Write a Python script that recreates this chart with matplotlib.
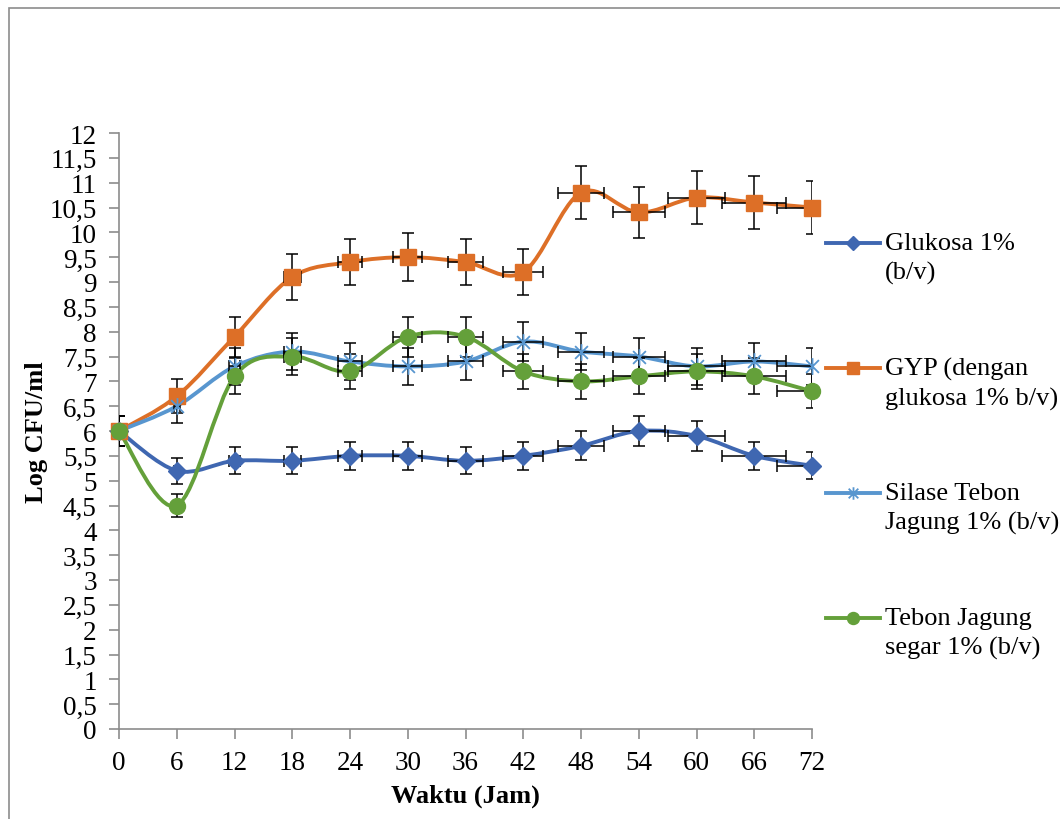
import numpy as np
import matplotlib.pyplot as plt
from matplotlib.path import Path
from matplotlib.patches import PathPatch, Rectangle
from matplotlib.lines import Line2D
from matplotlib.ticker import MultipleLocator, FuncFormatter

plt.rcParams['font.family'] = ['Liberation Serif', 'DejaVu Serif']

hours = [0, 6, 12, 18, 24, 30, 36, 42, 48, 54, 60, 66, 72]
hour_err = [0, 0.3, 0.6, 0.9, 1.2, 1.5, 1.8, 2.1, 2.4, 2.7, 3.0, 3.3, 3.6]

glukosa = [6.0, 5.2, 5.4, 5.4, 5.5, 5.5, 5.4, 5.5, 5.7, 6.0, 5.9, 5.5, 5.3]
glukosa_err = [0.30, 0.26, 0.27, 0.27, 0.28, 0.28, 0.27, 0.28, 0.29, 0.30, 0.30, 0.28, 0.27]

gyp = [6.0, 6.7, 7.9, 9.1, 9.4, 9.5, 9.4, 9.2, 10.8, 10.4, 10.7, 10.6, 10.5]
gyp_err = [0.30, 0.34, 0.40, 0.46, 0.47, 0.48, 0.47, 0.46, 0.54, 0.52, 0.54, 0.53, 0.53]

silase = [6.0, 6.5, 7.3, 7.6, 7.4, 7.3, 7.4, 7.8, 7.6, 7.5, 7.3, 7.4, 7.3]
silase_err = [0.30, 0.33, 0.37, 0.38, 0.37, 0.37, 0.37, 0.39, 0.38, 0.38, 0.37, 0.37, 0.37]

tebon = [6.0, 4.5, 7.1, 7.5, 7.2, 7.9, 7.9, 7.2, 7.0, 7.1, 7.2, 7.1, 6.8]
tebon_err = [0.30, 0.23, 0.36, 0.38, 0.36, 0.40, 0.40, 0.36, 0.35, 0.36, 0.36, 0.36, 0.34]

labels = ["Glukosa 1%\n(b/v)", "GYP (dengan\nglukosa 1% b/v)",
          "Silase Tebon\nJagung 1% (b/v)", "Tebon Jagung\nsegar 1% (b/v)"]

# excel-like "x with vertical bar" marker
star = Path([(-1, -1), (1, 1), (-1, 1), (1, -1), (0, -1.3), (0, 1.3)],
            [Path.MOVETO, Path.LINETO] * 3)

styles = [
    dict(color="#3F67B1", marker="D", ms=9),
    dict(color="#DD6F27", marker="s", ms=11.5),
    dict(color="#5896CF", marker=star, ms=12),
    dict(color="#64A03A", marker="o", ms=11.5),
]


def smooth_path(x, y):
    # bezier segments the way excel smooths a line
    pts = np.column_stack([x, y]).astype(float)
    ext = np.vstack([pts[0], pts, pts[-1]])
    verts = [pts[0]]
    codes = [Path.MOVETO]
    for i in range(len(pts) - 1):
        p0, p1, p2, p3 = ext[i], ext[i + 1], ext[i + 2], ext[i + 3]
        verts += [p1 + (p2 - p0) / 6, p2 - (p3 - p1) / 6, p2]
        codes += [Path.CURVE4] * 3
    return Path(verts, codes)


fig = plt.figure(figsize=(10.6, 8.2), dpi=100)
ax = fig.add_axes([119 / 1060, 1 - 730 / 820, 693 / 1060, 596 / 820])

series = [(glukosa, glukosa_err), (gyp, gyp_err), (silase, silase_err), (tebon, tebon_err)]
for i, ((vals, err), st) in enumerate(zip(series, styles)):
    ax.add_patch(PathPatch(smooth_path(hours, vals), fill=False,
                           edgecolor=st["color"], lw=2.8, zorder=2 + i * 0.01,
                           capstyle="round"))
    ax.errorbar(hours, vals, yerr=err, xerr=hour_err, fmt="none", ecolor="black",
                elinewidth=1.1, capsize=4, capthick=1.1, zorder=3 + i * 0.01)
    if st["marker"] is star:
        ax.plot(hours, vals, linestyle="none", marker=star, ms=st["ms"],
                mfc="none", mec=st["color"], mew=1.3, zorder=4 + i * 0.01, clip_on=False)
    else:
        ax.plot(hours, vals, linestyle="none", marker=st["marker"], ms=st["ms"],
                color=st["color"], mec=st["color"], zorder=4 + i * 0.01, clip_on=False)

ax.set_xlim(0, 72)
ax.set_ylim(0, 12)
ax.xaxis.set_major_locator(MultipleLocator(6))
ax.yaxis.set_major_locator(MultipleLocator(0.5))
ax.yaxis.set_major_formatter(FuncFormatter(lambda v, p: f"{v:g}".replace(".", ",")))

for s in ["top", "right"]:
    ax.spines[s].set_visible(False)
for s in ["left", "bottom"]:
    ax.spines[s].set_color("#8C8C8C")
    ax.spines[s].set_linewidth(1.2)
ax.tick_params(axis="both", colors="#8C8C8C", labelcolor="black", labelsize=19.5,
               length=7, width=1.2, direction="out")
ax.tick_params(axis="y", pad=9)
ax.tick_params(axis="x", pad=8)

ax.set_xlabel("Waktu (Jam)", fontsize=19, fontweight="bold", labelpad=6)
ax.set_ylabel("Log CFU/ml", fontsize=19, fontweight="bold", labelpad=1)

# legend drawn by hand so the handle sits on the first text line
leg_y = [244, 369, 494, 619]
for lab, st, y in zip(labels, styles, leg_y):
    fy = 1 - y / 820
    kw = dict(color=st["color"], lw=2.8, marker=st["marker"], markevery=[1],
              transform=fig.transFigure)
    if st["marker"] is star:
        kw.update(mfc="none", mec=st["color"], mew=1.3, ms=9)
    else:
        kw.update(mec=st["color"], ms=st["ms"] * 0.75)
    fig.add_artist(Line2D([826 / 1060, 853 / 1060, 880 / 1060], [fy, fy, fy], **kw))
    fig.text(885 / 1060, fy + 11 / 820, lab, fontsize=19, va="top", ha="left",
             linespacing=1.4)

fig.add_artist(Rectangle((9 / 1060, -0.1), 1.2, 1 - 9 / 820 + 0.1, fill=False,
                         edgecolor="#8C8C8C", lw=1.2, transform=fig.transFigure))

fig.savefig("out.png", dpi=100, facecolor="white")
